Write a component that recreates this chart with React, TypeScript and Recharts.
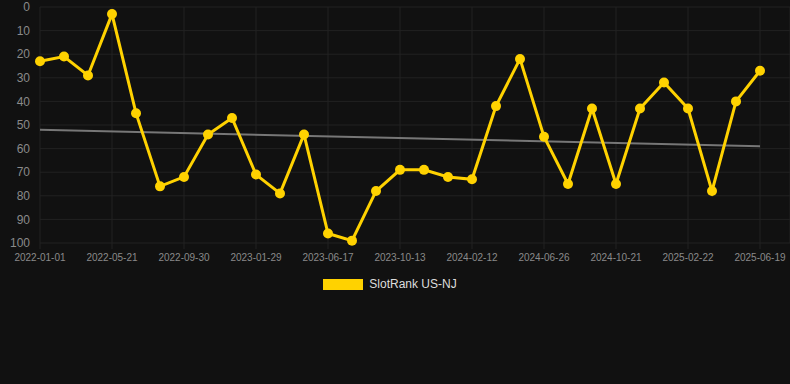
import { LineChart, Line, XAxis, YAxis, CartesianGrid, ReferenceLine, Legend } from 'recharts';

const dates = [
  '2022-01-01', '2022-02-16', '2022-04-04', '2022-05-21', '2022-07-04', '2022-08-17',
  '2022-09-30', '2022-11-09', '2022-12-19', '2023-01-29', '2023-03-16', '2023-05-01',
  '2023-06-17', '2023-07-26', '2023-09-03', '2023-10-13', '2023-11-22', '2024-01-02',
  '2024-02-12', '2024-03-28', '2024-05-12', '2024-06-26', '2024-08-04', '2024-09-12',
  '2024-10-21', '2024-12-02', '2025-01-12', '2025-02-22', '2025-04-02', '2025-05-11',
  '2025-06-19',
];

const ranks = [
  23, 21, 29, 3, 45, 76, 72, 54, 47, 71, 79, 54, 96, 99, 78, 69,
  69, 72, 73, 42, 22, 55, 75, 43, 75, 43, 32, 43, 78, 40, 27,
];

const yTicks = [0, 10, 20, 30, 40, 50, 60, 70, 80, 90, 100];

// trend line end points (start / end rank)
const trendStart = 52;
const trendEnd = 59;

const data = dates.map((d, i) => ({ date: d, rank: ranks[i] }));

const YELLOW = '#ffd200';
const FONT = '"Liberation Sans", Arial, Helvetica, sans-serif';

const LegendContent = () => (
  <div style={{ display: 'flex', justifyContent: 'center', alignItems: 'center', fontFamily: FONT, paddingRight: 10 }}>
    <span style={{ display: 'inline-block', width: 40, height: 11, background: YELLOW, marginRight: 6 }} />
    <span style={{ fontSize: 12, color: '#dddddd' }}>SlotRank US-NJ</span>
  </div>
);

export default function App() {
  return (
    <div style={{ position: 'absolute', left: 0, top: 0, width: 790, height: 384, background: '#111111' }}>
      <LineChart
        width={790}
        height={384}
        data={data}
        margin={{ top: 7, right: 0, left: 0, bottom: 111 }}
        style={{ fontFamily: FONT }}
      >
        <CartesianGrid stroke="#222222" strokeWidth={1} />
        <XAxis
          dataKey="date"
          interval={2}
          height={30}
          padding={{ left: 0, right: 30 }}
          axisLine={false}
          tickLine={{ stroke: '#222222' }}
          tickMargin={5}
          tick={{ fill: '#8a8a8a', fontSize: 10 }}
        />
        <YAxis
          reversed
          domain={[0, 100]}
          ticks={yTicks}
          interval={0}
          width={40}
          axisLine={false}
          tickLine={false}
          tickMargin={4}
          tick={{ fill: '#8a8a8a', fontSize: 12 }}
        />
        <ReferenceLine
          segment={[
            { x: dates[0], y: trendStart },
            { x: dates[dates.length - 1], y: trendEnd },
          ]}
          stroke="#777777"
          strokeWidth={2}
        />
        <Line
          type="linear"
          dataKey="rank"
          name="SlotRank US-NJ"
          stroke={YELLOW}
          strokeWidth={3}
          dot={{ r: 5, fill: YELLOW, stroke: 'none' }}
          activeDot={false}
          isAnimationActive={false}
        />
        <Legend
          verticalAlign="middle"
          align="center"
          layout="horizontal"
          content={<LegendContent />}
          wrapperStyle={{ top: 277, left: 0, width: 790, height: 16 }}
        />
      </LineChart>
    </div>
  );
}
